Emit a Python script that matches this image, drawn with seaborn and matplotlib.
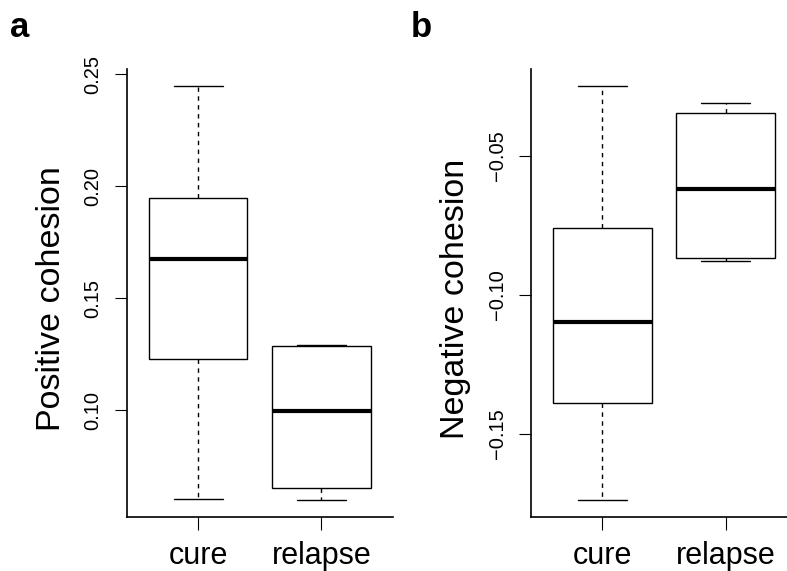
import numpy as np
import pandas as pd
import matplotlib
matplotlib.use("Agg")
import matplotlib.pyplot as plt
import seaborn as sns

# Five-number summaries (min, lower hinge, median, upper hinge, max)
groups = ["cure", "relapse"]
cure_pos = [0.0602, 0.1229, 0.1676, 0.1949, 0.2449]
relapse_pos = [0.0596, 0.0653, 0.0997, 0.1287, 0.1292]
cure_neg = [-0.1740, -0.1388, -0.1098, -0.0760, -0.0247]
relapse_neg = [-0.0877, -0.0868, -0.0619, -0.0343, -0.0308]

pos_ticks = [0.10, 0.15, 0.20, 0.25]
neg_ticks = [-0.15, -0.10, -0.05]

sns.set_style("ticks")
plt.rcParams["font.family"] = ["Liberation Sans", "DejaVu Sans"]
plt.rcParams["text.color"] = "black"
plt.rcParams["axes.labelcolor"] = "black"


def long_frame(a, b, name):
    return pd.DataFrame({
        "group": [groups[0]] * len(a) + [groups[1]] * len(b),
        name: list(a) + list(b),
    })


def draw_panel(ax, df, col, ticks, ylabel):
    sns.boxplot(data=df, x="group", y=col, order=groups, ax=ax,
                color="white", linecolor="black", linewidth=1.0,
                width=0.8, whis=np.inf, saturation=1,
                medianprops={"linewidth": 3.0},
                whiskerprops={"linestyle": (0, (3.2, 3.2))})
    ax.set_xlim(-0.58, 1.58)
    ax.margins(y=0.04)
    ax.set_yticks(ticks)
    ax.set_xlabel("")
    ax.set_ylabel(ylabel, fontsize=24.5, color="black")
    ax.yaxis.set_label_coords(-0.224, 0.488)
    sns.despine(ax=ax)
    for s in ["left", "bottom"]:
        ax.spines[s].set_linewidth(1.2)
        ax.spines[s].set_color("black")
    ax.tick_params(axis="y", length=8.6, width=0.8, pad=8.8,
                   labelsize=14.5, labelrotation=90, colors="black")
    ax.tick_params(axis="x", length=9, width=0.8, pad=8.4,
                   labelsize=22, colors="black")
    for lbl in ax.get_yticklabels():
        lbl.set_va("center")


fig = plt.figure(figsize=(7.87, 5.71), dpi=100)
ax_a = fig.add_axes([0.1610, 0.0946, 0.3381, 0.7841])
ax_b = fig.add_axes([0.6747, 0.0946, 0.3381, 0.7841])

draw_panel(ax_a, long_frame(cure_pos, relapse_pos, "pos"), "pos",
           pos_ticks, "Positive cohesion")
draw_panel(ax_b, long_frame(cure_neg, relapse_neg, "neg"), "neg",
           neg_ticks, "Negative cohesion")

fig.text(10 / 787, 1 - 36.7 / 571, "a", fontsize=25, fontweight="bold",
         color="black", ha="left", va="baseline")
fig.text(411 / 787, 1 - 36.7 / 571, "b", fontsize=25, fontweight="bold",
         color="black", ha="left", va="baseline")

fig.savefig("out.png", dpi=100, facecolor="white")
